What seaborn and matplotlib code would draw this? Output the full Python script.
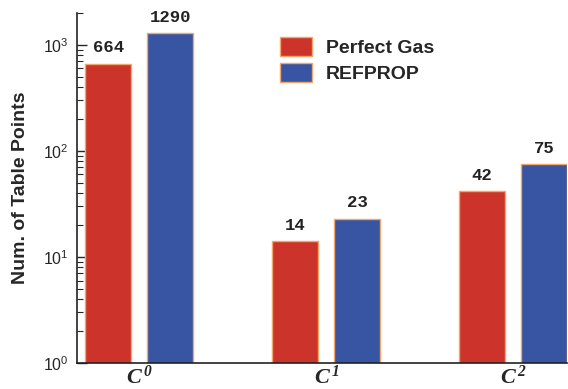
import matplotlib
matplotlib.use("Agg")
import matplotlib.pyplot as plt
import seaborn as sns
import pandas as pd
from matplotlib.patches import Patch

# Table sizes for each continuity level
categories = [r"$\mathbf{C^{\,0}}$", r"$\mathbf{C^{\,1}}$", r"$\mathbf{C^{\,2}}$"]
series = ["Perfect Gas", "REFPROP"]
perfect_gas = [664, 14, 42]
refprop = [1290, 23, 75]

colors = ["#cc342b", "#3755a3"]
edge = "#f2a66a"

sns.set_style("ticks")
plt.rcParams["font.family"] = ["Liberation Sans", "DejaVu Sans"]
plt.rcParams["mathtext.fontset"] = "custom"
plt.rcParams["mathtext.bf"] = "Liberation Serif:italic:bold"
plt.rcParams["mathtext.it"] = "Liberation Serif:italic:bold"
plt.rcParams["mathtext.rm"] = "Liberation Sans"

df = pd.DataFrame({
    "level": categories * 2,
    "model": [series[0]] * 3 + [series[1]] * 3,
    "points": perfect_gas + refprop,
})

fig = plt.figure(figsize=(5.68, 3.89), dpi=100)
ax = fig.add_axes([0.1356, 0.0668, 0.8634, 0.8998])

sns.barplot(data=df, x="level", y="points", hue="model", palette=colors,
            width=0.664, gap=0.26, edgecolor=edge, linewidth=1.0,
            saturation=1, legend=False, ax=ax)

ax.set_yscale("log")
ax.set_ylim(1, 2000)
ax.set_xlim(-0.332, 2.29)

for cont in ax.containers:
    ax.bar_label(cont, fmt="%d", padding=6, fontsize=12.5,
                 fontfamily="Liberation Mono", fontweight="bold", color="#222222")

ax.set_xlabel("")
ax.set_ylabel("Num. of Table Points", fontsize=14, fontweight="bold", labelpad=10)
ax.tick_params(axis="y", which="major", direction="in", length=7, width=1,
               labelsize=11.5, pad=6)
ax.tick_params(axis="y", which="minor", direction="in", length=4.5, width=0.8)
ax.tick_params(axis="x", length=0, labelsize=16, pad=2)
for s in ["top", "right"]:
    ax.spines[s].set_visible(False)
for s in ["left", "bottom"]:
    ax.spines[s].set_linewidth(1.2)
    ax.spines[s].set_color("#222222")

handles = [Patch(facecolor=c, edgecolor=edge, linewidth=1.0, label=l)
           for c, l in zip(colors, series)]
ax.legend(handles=handles, loc="upper left", bbox_to_anchor=(0.378, 0.98),
          frameon=False, prop={"weight": "bold", "size": 14},
          handlelength=1.65, handleheight=1.1, handletextpad=0.7,
          labelspacing=0.3)

fig.savefig("out.png", dpi=100)
